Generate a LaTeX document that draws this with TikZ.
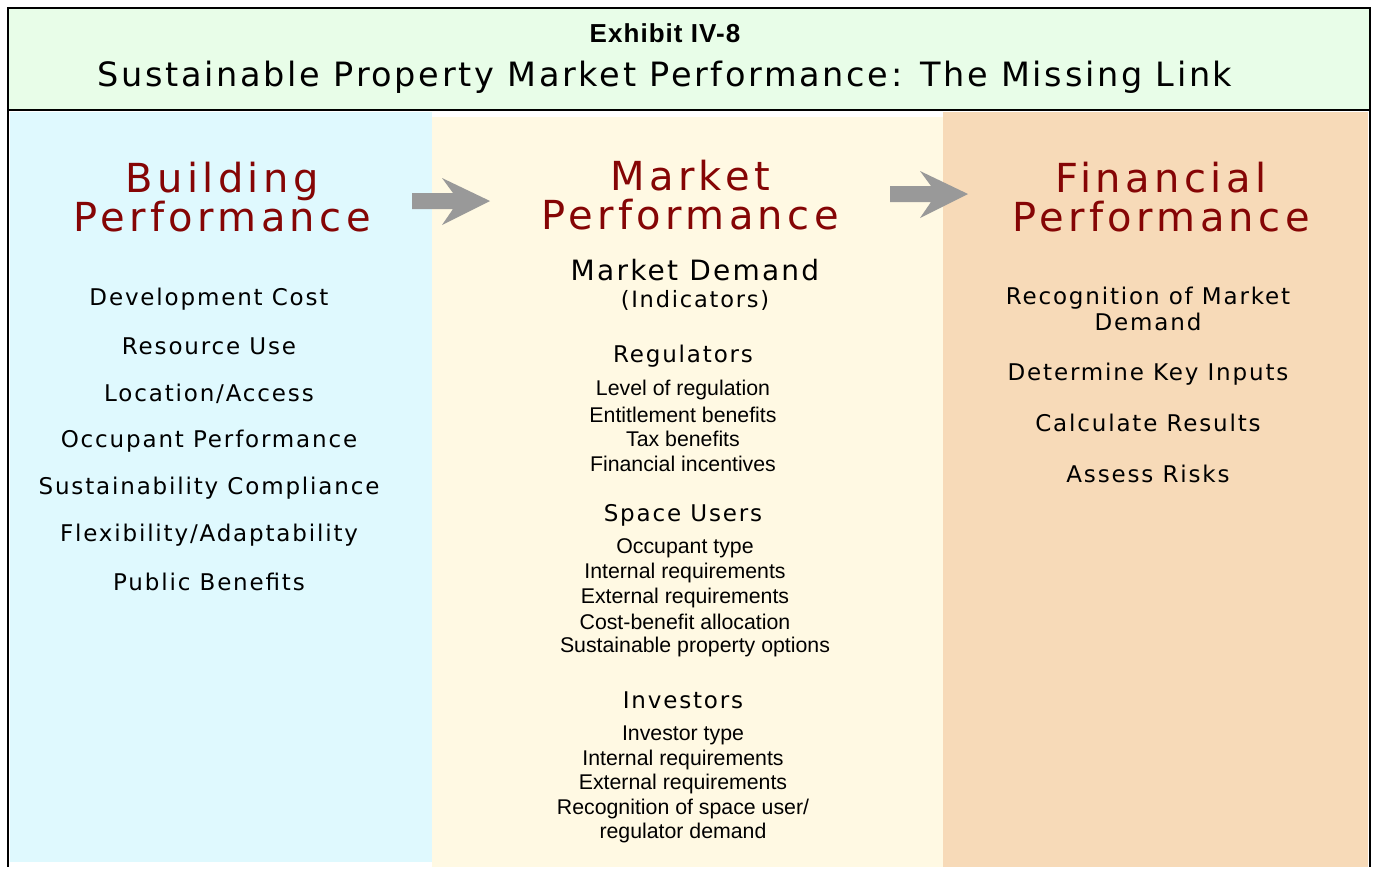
\documentclass[tikz,border=0pt]{standalone}
\usepackage{fontspec}
\setmainfont{Liberation Sans}
\newfontfamily\wide[LetterSpace=8]{DejaVu Sans}
\newfontfamily\headfont[LetterSpace=11]{DejaVu Sans}
\newfontfamily\exfont[LetterSpace=4]{Liberation Sans}
\definecolor{titlegreen}{HTML}{E8FDE8}
\definecolor{bldblue}{HTML}{DFF9FE}
\definecolor{mktyellow}{HTML}{FFF9E3}
\definecolor{finorange}{HTML}{F7DAB8}
\definecolor{headred}{HTML}{850505}
\definecolor{arrowgray}{HTML}{999999}
\begin{document}
\begin{tikzpicture}[x=1pt,y=-1pt,
	colhead/.style={font=\headfont\fontsize{40}{39.5}\selectfont,text=headred,align=center},
	witem/.style={font=\wide\fontsize{23}{26}\selectfont,align=center},
	group/.style={font=\wide\fontsize{23}{26}\selectfont},
	sitem/.style={font=\fontsize{21.3}{24}\selectfont}]
	\fill[white] (0,0) rectangle (1377,867);
	\fill[bldblue] (10,112) rectangle (432,862);
	\fill[mktyellow] (432,117) rectangle (943,867);
	\fill[finorange] (943,112) rectangle (1368,867);
	\draw[line width=2pt] (8,110) -- (8,867);
	\draw[line width=2pt] (1370,110) -- (1370,867);
	\draw[line width=2pt,fill=titlegreen] (8,8) rectangle (1370,110);

	\node (exhibit) at (665,33) [font=\exfont\bfseries\fontsize{26}{28}\selectfont] {Exhibit IV-8};
	\node (title) at (665,77) [font=\wide\fontsize{33.5}{36}\selectfont] {Sustainable Property Market Performance: The Missing Link};

	\node (bldHead) at (222,197) [colhead] {Building\\Performance};
	\node (mktHead) at (690,195) [colhead] {Market\\Performance};
	\node (finHead) at (1161,197) [colhead] {Financial\\Performance};

	\coordinate (arrowA) at (412,193);
	\coordinate (arrowB) at (890,186);
	\foreach \a in {arrowA,arrowB}
		\fill[arrowgray] (\a) -- ++(41,0) -- ++(-11,-15) -- ++(48,23) -- ++(-48,24) -- ++(11,-16) -- ++(-41,0) -- cycle;

	\foreach \txt [count=\i] in {Development Cost,Resource Use,Location/Access,Occupant Performance,Sustainability Compliance,Flexibility/Adaptability,Public Benefits}
		\node (bld\i) at (209,{252+47.2*\i}) [witem] {\txt};

	\node (demand) at (695,270) [font=\wide\fontsize{28}{30}\selectfont] {Market Demand};
	\node (indicators) at (695,300) [font=\wide\fontsize{22.5}{26}\selectfont] {(Indicators)};

	\node (regulators) at (683,356) [group] {Regulators};
	\foreach \txt [count=\i] in {Level of regulation,Entitlement benefits,Tax benefits,Financial incentives}
		\node (reg\i) at (683,{365.5+24.5*\i}) [sitem] {\txt};

	\node (users) at (683,515) [group] {Space Users};
	\foreach \txt [count=\i] in {Occupant type,Internal requirements,External requirements,Cost-benefit allocation}
		\node (usr\i) at (685,{523.5+24.7*\i}) [sitem] {\txt};
	\node (usr5) at (695,647) [sitem] {Sustainable property options};

	\node (investors) at (683,700) [group] {Investors};
	\foreach \txt [count=\i] in {Investor type,Internal requirements,External requirements,Recognition of space user/,regulator demand}
		\node (inv\i) at (683,{710.5+24.5*\i}) [sitem] {\txt};

	\node (fin1) at (1148,309) [witem] {Recognition of Market\\Demand};
	\node (fin2) at (1148,374) [witem] {Determine Key Inputs};
	\node (fin3) at (1148,423) [witem] {Calculate Results};
	\node (fin4) at (1148,474) [witem] {Assess Risks};
\end{tikzpicture}
\end{document}
